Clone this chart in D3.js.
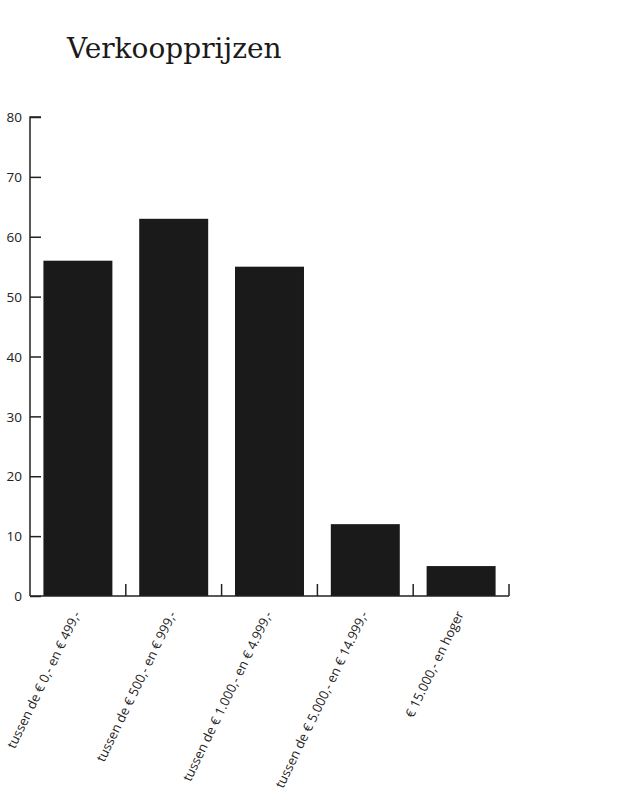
<!DOCTYPE html>
<html><head><meta charset="utf-8">
<script src="https://cdn.jsdelivr.net/npm/d3@7"></script>
<style>body{margin:0;background:#fff}</style>
</head><body>
<script>
const categories = ["tussen de € 0,- en € 499,-","tussen de € 500,- en € 999,-","tussen de € 1.000,- en € 4.999,-","tussen de € 5.000,- en € 14.999,-","€ 15.000,- en hoger"];
const values = [56, 63, 55, 12, 5];
const yTicks = [0,10,20,30,40,50,60,70,80];
const title = "Verkoopprijzen";

const W = 627, H = 800;
const svg = d3.select("body").append("svg").attr("width", W).attr("height", H);
const x0 = 30, x1 = 509, yTop = 117, yBot = 596;
const x = d3.scaleBand().domain(categories).range([x0, x1]).paddingInner(0.28).paddingOuter(0.14);
const y = d3.scaleLinear().domain([0, 80]).range([yBot, yTop]);
const ink = "#222";

svg.append("text").attr("x", 67).attr("y", 58).attr("font-family", "DejaVu Serif").attr("font-size", 28)
  .attr("fill", "#1a1a1a").text(title);

// bars
svg.selectAll("rect.bar").data(values).join("rect").attr("class","bar")
  .attr("x", (d,i) => x(categories[i])).attr("width", x.bandwidth())
  .attr("y", d => y(d)).attr("height", d => y(0) - y(d))
  .attr("fill", "#1a1a1a");

// y axis
const ya = svg.append("g").attr("transform", `translate(${x0},0)`)
  .call(d3.axisRight(y).tickValues(yTicks).tickSize(11).tickFormat(""));
ya.select(".domain").attr("stroke", ink).attr("stroke-width", 1.5).attr("d", `M11,${yTop}H0V${yBot}`);
ya.selectAll(".tick line").attr("stroke", ink).attr("stroke-width", 1.5);
svg.selectAll("text.ylab").data(yTicks).join("text").attr("class","ylab")
  .attr("x", 22).attr("y", d => y(d)).attr("dy", "0.38em").attr("text-anchor", "end")
  .attr("font-family", "Open Sans").attr("font-size", 13.5).attr("fill", ink).text(d => d);

// x axis with boundary ticks
const bounds = d3.range(1, categories.length + 1).map(i => x0 + i * (x1 - x0) / categories.length);
svg.append("line").attr("x1", x0).attr("x2", x1).attr("y1", yBot).attr("y2", yBot).attr("stroke", ink).attr("stroke-width", 1.5);
svg.selectAll("line.xt").data(bounds).join("line").attr("class","xt")
  .attr("x1", d => d).attr("x2", d => d).attr("y1", yBot).attr("y2", yBot - 12)
  .attr("stroke", ink).attr("stroke-width", 1.5);

svg.selectAll("text.xlab").data(categories).join("text").attr("class","xlab")
  .attr("transform", d => `translate(${x(d) + x.bandwidth()/2 + 3},${yBot + 18}) rotate(-64)`)
  .attr("text-anchor", "end").attr("font-family", "Open Sans").attr("font-size", 13)
  .attr("fill", ink).text(d => d);
</script>
</body></html>
